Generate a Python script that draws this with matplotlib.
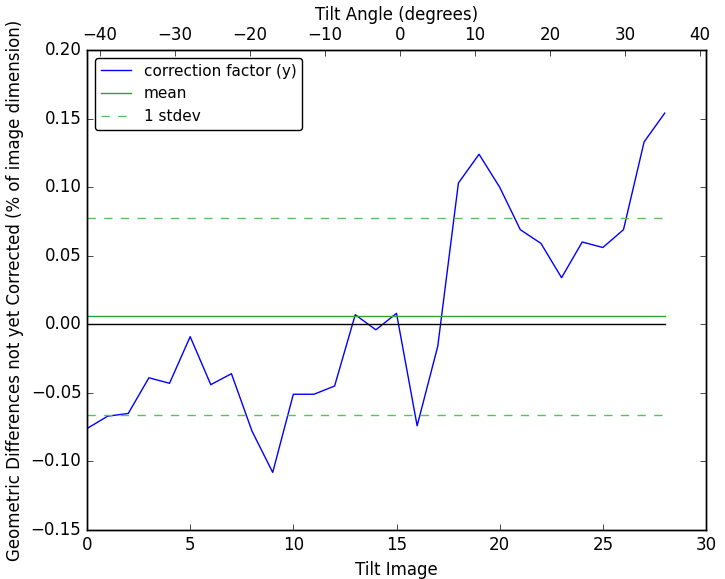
import matplotlib
matplotlib.use("Agg")
import matplotlib.pyplot as plt
from matplotlib.ticker import MultipleLocator
import numpy as np

# tilt image index and measured correction factor
tilt_image = list(range(29))
correction = [-0.076, -0.067, -0.065, -0.039, -0.043, -0.009, -0.044, -0.036,
              -0.078, -0.108, -0.051, -0.051, -0.045, 0.007, -0.004, 0.008,
              -0.074, -0.016, 0.103, 0.124, 0.100, 0.069, 0.059, 0.034,
              0.060, 0.056, 0.069, 0.133, 0.154]
angle_limits = (-41.7, 40.8)

plt.style.use('classic')
plt.rcParams['savefig.facecolor'] = 'white'

y = np.array(correction)
mean = y.mean()
std = y.std()
x0, x1 = tilt_image[0], tilt_image[-1]

fig = plt.figure(figsize=(7.25, 5.79), dpi=100, facecolor='white')
ax = fig.add_axes([0.12, 0.0846, 0.8538, 0.829])

ax.plot(tilt_image, correction, color='b', linewidth=1, label='correction factor (y)')
ax.plot([x0, x1], [0, 0], color='k', linewidth=1)
ax.plot([x0, x1], [mean, mean], color='#33a033', linewidth=1, label='mean')
ax.plot([x0, x1], [mean + std, mean + std], '--', color='#5cbf5c', linewidth=1, label='1 stdev')
ax.plot([x0, x1], [mean - std, mean - std], '--', color='#5cbf5c', linewidth=1)

ax.set_xlim(0, 30)
ax.set_ylim(-0.15, 0.20)
ax.set_xlabel('Tilt Image', fontsize=12)
ax.set_ylabel('Geometric Differences not yet Corrected (% of image dimension)', fontsize=12)
ax.tick_params(labelsize=12)

leg = ax.legend(loc='upper left', fontsize=11, fancybox=True, numpoints=1)
leg.get_frame().set_linewidth(1)

ax2 = ax.twiny()
ax2.set_xlim(*angle_limits)
ax2.xaxis.set_major_locator(MultipleLocator(10))
ax2.set_xlabel('Tilt Angle (degrees)', fontsize=12)
ax2.tick_params(labelsize=12)

fig.savefig('out.png', dpi=100, facecolor='white')
